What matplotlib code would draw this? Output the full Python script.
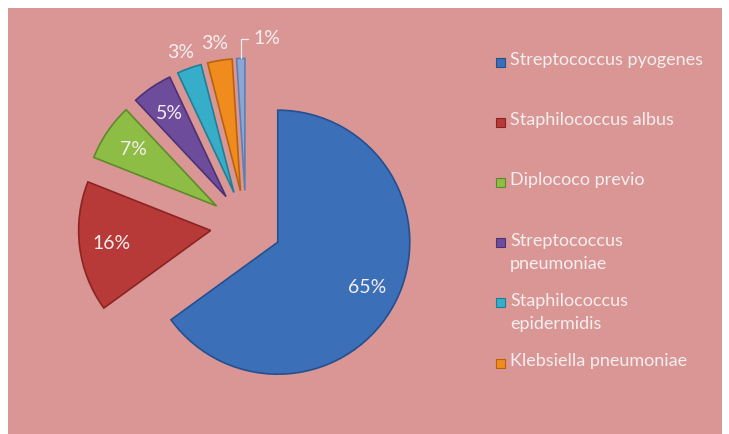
import numpy as np
import matplotlib.pyplot as plt
from matplotlib.patches import Rectangle

labels = ['Streptococcus pyogenes', 'Staphilococcus albus', 'Diplococo previo',
          'Streptococcus\npneumoniae', 'Staphilococcus\nepidermidis',
          'Klebsiella pneumoniae', 'Otros']
values = [65, 16, 7, 5, 3, 3, 1]
colors = ['#3b6fb8', '#b83a38', '#8dbd45', '#6e4c9c', '#36aec9', '#f08c1e', '#8aa6d4']
edges = ['#24508f', '#8a2422', '#5f8a2a', '#4c3275', '#1f7f96', '#b9620d', '#5f7fb0']

plt.rcParams['font.family'] = ['Lato', 'DejaVu Sans']

fig = plt.figure(figsize=(7.29, 4.34), dpi=100)
fig.patch.set_facecolor('white')
fig.patches.append(Rectangle((8 / 729, 0), 714 / 729, 426 / 434,
                             transform=fig.transFigure, facecolor='#d99694',
                             edgecolor='none', zorder=-5))

# pie: center at (246, 226) px from top-left, radius 132 px
R = 132
L = 205
ax = fig.add_axes([(246 - L) / 729, (208 - L) / 434, 2 * L / 729, 2 * L / 434])
ax.set_facecolor('none')
ax.set_zorder(1)

wedges, texts, autotexts = ax.pie(
    values, explode=[0.27] * len(values), startangle=90, counterclock=False,
    colors=colors, autopct='%1.0f%%', pctdistance=0.76,
    wedgeprops=dict(linewidth=1.2), textprops=dict(color='#f4eeee', fontsize=14))
for w, ec in zip(wedges, edges):
    w.set_edgecolor(ec)

for w, t, v in zip(wedges, autotexts, values):
    mid = np.deg2rad((w.theta1 + w.theta2) / 2)
    cx, cy = w.center
    if v == 3:
        t.set_position((cx + 1.13 * np.cos(mid) - 0.02, cy + 1.13 * np.sin(mid)))
    elif v == 1:
        t.set_visible(False)
        tip = (cx + np.cos(mid), cy + np.sin(mid))
        ax.annotate('1%', xy=tip, xytext=(tip[0] + 0.1, tip[1] + 0.15),
                    color='#f4eeee', fontsize=14, ha='left', va='center',
                    arrowprops=dict(arrowstyle='-', color='#f4eeee', lw=0.9,
                                    shrinkA=2, shrinkB=0,
                                    connectionstyle='angle,angleA=0,angleB=90,rad=0'))

ax.set_xlim(-L / R, L / R)
ax.set_ylim(-L / R, L / R)
ax.set_aspect('equal')
ax.axis('off')

# legend (6 entries shown)
top = 434 - 62
step = 60.2
for i in range(6):
    y = top - i * step
    fig.patches.append(Rectangle((496 / 729, (y - 4.5) / 434), 9 / 729, 9 / 434,
                                 transform=fig.transFigure, facecolor=colors[i],
                                 edgecolor=edges[i], linewidth=0.8, zorder=2))
    fig.text(510 / 729, (y + 10) / 434, labels[i], color='#f4eeee', fontsize=13,
             ha='left', va='top', linespacing=1.55)

fig.savefig('out.png', dpi=100)
